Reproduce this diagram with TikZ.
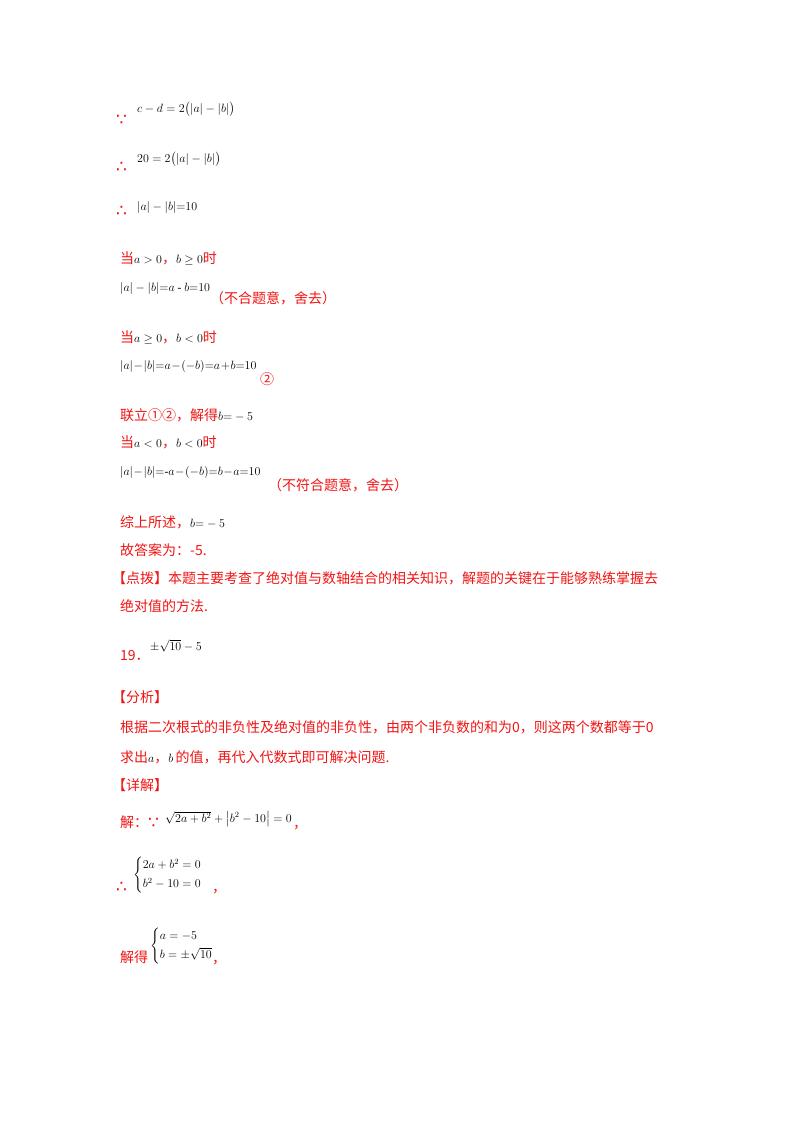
\documentclass[tikz,border=0pt]{standalone}
\usepackage{amsmath}
\usepackage{fontspec}
\setmainfont{Liberation Serif}
\newfontfamily\cjk{Noto Sans CJK SC}
\newfontfamily\sym{DejaVu Sans}
\definecolor{rd}{RGB}{240,20,20}
\newcommand\mth[1]{\textcolor{black}{\fontsize{13}{15}\selectfont$#1$}}
\begin{document}
\begin{tikzpicture}[x=1pt,y=-1pt]
\useasboundingbox (0,0) rectangle (800,1132);
\tikzset{
 t/.style={anchor=base west,inner sep=0pt,font=\cjk\fontsize{14}{16}\selectfont,text=rd},
 m/.style={anchor=base west,inner sep=0pt,font=\fontsize{11.5}{13}\selectfont,text=black},
 dots/.style={anchor=base west,inner sep=0pt,font=\sym\fontsize{17}{19}\selectfont,text=rd}
}
\node[dots] (s1) at (116,125) {∵};
\node[m] (e1) at (137,112) {$c-d=2\big(|a|-|b|\big)$};
\node[dots] (s2) at (116,172) {∴};
\node[m] (e2) at (137,162) {$20=2\big(|a|-|b|\big)$};
\node[dots] (s3) at (116,216) {∴};
\node[m] (e3) at (137,210) {$|a|-|b|{=}10$};
\node[t] (l4) at (120,263) {当\mth{a>0}，\mth{b\geq0}时};
\node[m] (e4) at (120,291) {$|a|-|b|{=}a\text{ - }b{=}10$};
\node[t] (c4) at (210,303) {（不合题意，舍去）};
\node[t] (l5) at (120,342) {当\mth{a\geq0}，\mth{b<0}时};
\node[m] (e5) at (120,369) {$|a|\!-\!|b|{=}a\!-\!(-b){=}a\!+\!b{=}10$};
\node[t] (c5) at (260,384) {②};
\node[t] (l6) at (120,420) {联立①②，解得\mth{b{=}-5}};
\node[t] (l7) at (120,447) {当\mth{a<0}，\mth{b<0}时};
\node[m] (e7) at (120,475) {$|a|\!-\!|b|{=}\text{-}a\!-\!(-b){=}b\!-\!a{=}10$};
\node[t] (c7) at (268,490) {（不符合题意，舍去）};
\node[t] (l8) at (120,527) {综上所述，\mth{b{=}-5}};
\node[t] (l9) at (120,555) {故答案为：-5.};
\node[t] (l10) at (112,583) {【点拨】本题主要考查了绝对值与数轴结合的相关知识，解题的关键在于能够熟练掌握去};
\node[t] (l11) at (120,611) {绝对值的方法.};
\node[t] (n19) at (120,660) {19．};
\node[m] (e19) at (150,650) {$\pm\sqrt{10}-5$};
\node[t] (fx) at (112,702) {【分析】};
\node[t] (p1) at (120,732) {根据二次根式的非负性及绝对值的非负性，由两个非负数的和为0，则这两个数都等于0};
\node[t] (p2) at (120,762) {求出\mth{a}，\mth{b}\,的值，再代入代数式即可解决问题.};
\node[t] (xj) at (112,790) {【详解】};
\node[t] (j1) at (120,827) {解：};
\node[dots] (s5) at (148,828) {∵};
\node[m] (e20) at (165,822) {$\sqrt{2a+b^2}+\big|b^2-10\big|=0$};
\node[t] (cm1) at (e20.base east) [xshift=1pt,yshift=-6pt] {，};
\node[dots] (s4) at (116,892) {∴};
\node[m] (sys1) at (133,878) {$\begin{cases}2a+b^2=0\\[3pt] b^2-10=0\end{cases}$};
\node[t] (cm2) at (212,892) {，};
\node[t] (j2) at (120,962) {解得};
\node[m] (sys2) at (150,949) {$\begin{cases}a=-5\\[3pt] b=\pm\sqrt{10}\end{cases}$};
\node[t] (cm3) at (212,963) {，};
\end{tikzpicture}
\end{document}
